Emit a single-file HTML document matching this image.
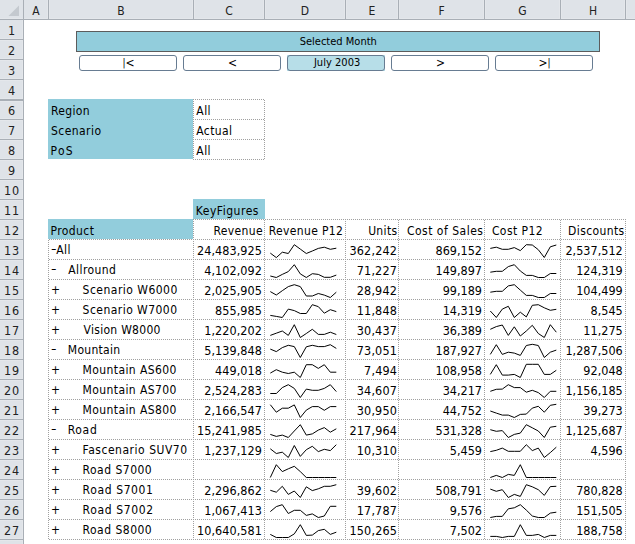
<!DOCTYPE html><html><head><meta charset="utf-8"><style>
html,body{margin:0;padding:0;background:#fff}
body{width:635px;height:544px;overflow:hidden;position:relative}
div,span{position:absolute;box-sizing:content-box}
.t{font-family:"DejaVu Sans Condensed","DejaVu Sans","Liberation Sans",sans-serif;font-size:12px;line-height:14px;color:#000;white-space:nowrap}
.n{font-size:12.5px}
.h{font-family:"DejaVu Sans Condensed","DejaVu Sans","Liberation Sans",sans-serif;font-size:12px;line-height:14px;color:#222;white-space:nowrap}
.r{font-size:12.5px}
.s{font-family:"DejaVu Sans Condensed","DejaVu Sans","Liberation Sans",sans-serif;font-size:11px;line-height:13px;color:#000;white-space:nowrap}
.a{font-size:12px;line-height:14px}
.p{position:relative;top:-1px;font-size:10px}
.hy{position:relative;top:-1px;display:inline-block;transform:scaleX(1.4);transform-origin:0 0;margin-right:0.8px}
.hd{height:1px;background:linear-gradient(to right,#A0A0A0 1px,transparent 1px) 0 0/2px 1px repeat-x}
.vd{width:1px;background:linear-gradient(to bottom,#A0A0A0 1px,transparent 1px) 0 0/1px 2px repeat-y}
</style></head><body><div style="left:0px;top:0px;width:635px;height:19px;background:#DFE3E8;"></div>
<div style="left:0px;top:18px;width:635px;height:1px;background:#E4E7EB;"></div>
<div style="left:0px;top:19px;width:635px;height:1px;background:#A9AFB6;"></div>
<div style="left:0px;top:20px;width:23px;height:524px;background:#DFE3E8;"></div>
<div style="left:22px;top:20px;width:1px;height:524px;background:#E4E7EB;"></div>
<div style="left:23px;top:0px;width:1px;height:544px;background:#A9AFB6;"></div>
<svg style="position:absolute;left:0;top:0" width="23" height="19"><polygon points="8.5,16 19,5.5 19,16" fill="#C4C9CF"/></svg>
<div style="left:47px;top:0px;width:1px;height:18px;background:#E4E7EB;"></div>
<div style="left:49px;top:0px;width:1px;height:18px;background:#E4E7EB;"></div>
<div style="left:48px;top:0px;width:1px;height:19px;background:#A9AFB6;"></div>
<div style="left:192px;top:0px;width:1px;height:18px;background:#E4E7EB;"></div>
<div style="left:194px;top:0px;width:1px;height:18px;background:#E4E7EB;"></div>
<div style="left:193px;top:0px;width:1px;height:19px;background:#A9AFB6;"></div>
<div style="left:263px;top:0px;width:1px;height:18px;background:#E4E7EB;"></div>
<div style="left:265px;top:0px;width:1px;height:18px;background:#E4E7EB;"></div>
<div style="left:264px;top:0px;width:1px;height:19px;background:#A9AFB6;"></div>
<div style="left:344px;top:0px;width:1px;height:18px;background:#E4E7EB;"></div>
<div style="left:346px;top:0px;width:1px;height:18px;background:#E4E7EB;"></div>
<div style="left:345px;top:0px;width:1px;height:19px;background:#A9AFB6;"></div>
<div style="left:397px;top:0px;width:1px;height:18px;background:#E4E7EB;"></div>
<div style="left:399px;top:0px;width:1px;height:18px;background:#E4E7EB;"></div>
<div style="left:398px;top:0px;width:1px;height:19px;background:#A9AFB6;"></div>
<div style="left:483px;top:0px;width:1px;height:18px;background:#E4E7EB;"></div>
<div style="left:485px;top:0px;width:1px;height:18px;background:#E4E7EB;"></div>
<div style="left:484px;top:0px;width:1px;height:19px;background:#A9AFB6;"></div>
<div style="left:559px;top:0px;width:1px;height:18px;background:#E4E7EB;"></div>
<div style="left:561px;top:0px;width:1px;height:18px;background:#E4E7EB;"></div>
<div style="left:560px;top:0px;width:1px;height:19px;background:#A9AFB6;"></div>
<div style="left:624px;top:0px;width:1px;height:18px;background:#E4E7EB;"></div>
<div style="left:626px;top:0px;width:1px;height:18px;background:#E4E7EB;"></div>
<div style="left:625px;top:0px;width:1px;height:19px;background:#A9AFB6;"></div>
<span class="h" style="top:4px;letter-spacing:0.000px;left:-64.00px;width:200px;text-align:center">A</span>
<span class="h" style="top:4px;letter-spacing:0.000px;left:21.00px;width:200px;text-align:center">B</span>
<span class="h" style="top:4px;letter-spacing:0.000px;left:129.00px;width:200px;text-align:center">C</span>
<span class="h" style="top:4px;letter-spacing:0.000px;left:205.00px;width:200px;text-align:center">D</span>
<span class="h" style="top:4px;letter-spacing:0.000px;left:272.00px;width:200px;text-align:center">E</span>
<span class="h" style="top:4px;letter-spacing:0.000px;left:341.50px;width:200px;text-align:center">F</span>
<span class="h" style="top:4px;letter-spacing:0.000px;left:422.50px;width:200px;text-align:center">G</span>
<span class="h" style="top:4px;letter-spacing:0.000px;left:493.00px;width:200px;text-align:center">H</span>
<span class="h" style="top:4px;letter-spacing:0.000px;left:563.00px;width:200px;text-align:center">I</span>
<div style="left:0px;top:38px;width:22px;height:1px;background:#E4E7EB;"></div>
<div style="left:0px;top:40px;width:22px;height:1px;background:#E4E7EB;"></div>
<div style="left:0px;top:39px;width:23px;height:1px;background:#A9AFB6;"></div>
<div style="left:0px;top:58px;width:22px;height:1px;background:#E4E7EB;"></div>
<div style="left:0px;top:60px;width:22px;height:1px;background:#E4E7EB;"></div>
<div style="left:0px;top:59px;width:23px;height:1px;background:#A9AFB6;"></div>
<div style="left:0px;top:78px;width:22px;height:1px;background:#E4E7EB;"></div>
<div style="left:0px;top:80px;width:22px;height:1px;background:#E4E7EB;"></div>
<div style="left:0px;top:79px;width:23px;height:1px;background:#A9AFB6;"></div>
<div style="left:0px;top:98px;width:22px;height:1px;background:#E4E7EB;"></div>
<div style="left:0px;top:100px;width:22px;height:1px;background:#E4E7EB;"></div>
<div style="left:0px;top:99px;width:23px;height:1px;background:#A9AFB6;"></div>
<div style="left:0px;top:101px;width:22px;height:1px;background:#E4E7EB;"></div>
<div style="left:0px;top:100px;width:23px;height:1px;background:#A9AFB6;"></div>
<div style="left:0px;top:118px;width:22px;height:1px;background:#E4E7EB;"></div>
<div style="left:0px;top:120px;width:22px;height:1px;background:#E4E7EB;"></div>
<div style="left:0px;top:119px;width:23px;height:1px;background:#A9AFB6;"></div>
<div style="left:0px;top:138px;width:22px;height:1px;background:#E4E7EB;"></div>
<div style="left:0px;top:140px;width:22px;height:1px;background:#E4E7EB;"></div>
<div style="left:0px;top:139px;width:23px;height:1px;background:#A9AFB6;"></div>
<div style="left:0px;top:158px;width:22px;height:1px;background:#E4E7EB;"></div>
<div style="left:0px;top:160px;width:22px;height:1px;background:#E4E7EB;"></div>
<div style="left:0px;top:159px;width:23px;height:1px;background:#A9AFB6;"></div>
<div style="left:0px;top:178px;width:22px;height:1px;background:#E4E7EB;"></div>
<div style="left:0px;top:180px;width:22px;height:1px;background:#E4E7EB;"></div>
<div style="left:0px;top:179px;width:23px;height:1px;background:#A9AFB6;"></div>
<div style="left:0px;top:198px;width:22px;height:1px;background:#E4E7EB;"></div>
<div style="left:0px;top:200px;width:22px;height:1px;background:#E4E7EB;"></div>
<div style="left:0px;top:199px;width:23px;height:1px;background:#A9AFB6;"></div>
<div style="left:0px;top:218px;width:22px;height:1px;background:#E4E7EB;"></div>
<div style="left:0px;top:220px;width:22px;height:1px;background:#E4E7EB;"></div>
<div style="left:0px;top:219px;width:23px;height:1px;background:#A9AFB6;"></div>
<div style="left:0px;top:238px;width:22px;height:1px;background:#E4E7EB;"></div>
<div style="left:0px;top:240px;width:22px;height:1px;background:#E4E7EB;"></div>
<div style="left:0px;top:239px;width:23px;height:1px;background:#A9AFB6;"></div>
<div style="left:0px;top:258px;width:22px;height:1px;background:#E4E7EB;"></div>
<div style="left:0px;top:260px;width:22px;height:1px;background:#E4E7EB;"></div>
<div style="left:0px;top:259px;width:23px;height:1px;background:#A9AFB6;"></div>
<div style="left:0px;top:278px;width:22px;height:1px;background:#E4E7EB;"></div>
<div style="left:0px;top:280px;width:22px;height:1px;background:#E4E7EB;"></div>
<div style="left:0px;top:279px;width:23px;height:1px;background:#A9AFB6;"></div>
<div style="left:0px;top:298px;width:22px;height:1px;background:#E4E7EB;"></div>
<div style="left:0px;top:300px;width:22px;height:1px;background:#E4E7EB;"></div>
<div style="left:0px;top:299px;width:23px;height:1px;background:#A9AFB6;"></div>
<div style="left:0px;top:318px;width:22px;height:1px;background:#E4E7EB;"></div>
<div style="left:0px;top:320px;width:22px;height:1px;background:#E4E7EB;"></div>
<div style="left:0px;top:319px;width:23px;height:1px;background:#A9AFB6;"></div>
<div style="left:0px;top:338px;width:22px;height:1px;background:#E4E7EB;"></div>
<div style="left:0px;top:340px;width:22px;height:1px;background:#E4E7EB;"></div>
<div style="left:0px;top:339px;width:23px;height:1px;background:#A9AFB6;"></div>
<div style="left:0px;top:358px;width:22px;height:1px;background:#E4E7EB;"></div>
<div style="left:0px;top:360px;width:22px;height:1px;background:#E4E7EB;"></div>
<div style="left:0px;top:359px;width:23px;height:1px;background:#A9AFB6;"></div>
<div style="left:0px;top:378px;width:22px;height:1px;background:#E4E7EB;"></div>
<div style="left:0px;top:380px;width:22px;height:1px;background:#E4E7EB;"></div>
<div style="left:0px;top:379px;width:23px;height:1px;background:#A9AFB6;"></div>
<div style="left:0px;top:398px;width:22px;height:1px;background:#E4E7EB;"></div>
<div style="left:0px;top:400px;width:22px;height:1px;background:#E4E7EB;"></div>
<div style="left:0px;top:399px;width:23px;height:1px;background:#A9AFB6;"></div>
<div style="left:0px;top:418px;width:22px;height:1px;background:#E4E7EB;"></div>
<div style="left:0px;top:420px;width:22px;height:1px;background:#E4E7EB;"></div>
<div style="left:0px;top:419px;width:23px;height:1px;background:#A9AFB6;"></div>
<div style="left:0px;top:438px;width:22px;height:1px;background:#E4E7EB;"></div>
<div style="left:0px;top:440px;width:22px;height:1px;background:#E4E7EB;"></div>
<div style="left:0px;top:439px;width:23px;height:1px;background:#A9AFB6;"></div>
<div style="left:0px;top:458px;width:22px;height:1px;background:#E4E7EB;"></div>
<div style="left:0px;top:460px;width:22px;height:1px;background:#E4E7EB;"></div>
<div style="left:0px;top:459px;width:23px;height:1px;background:#A9AFB6;"></div>
<div style="left:0px;top:478px;width:22px;height:1px;background:#E4E7EB;"></div>
<div style="left:0px;top:480px;width:22px;height:1px;background:#E4E7EB;"></div>
<div style="left:0px;top:479px;width:23px;height:1px;background:#A9AFB6;"></div>
<div style="left:0px;top:498px;width:22px;height:1px;background:#E4E7EB;"></div>
<div style="left:0px;top:500px;width:22px;height:1px;background:#E4E7EB;"></div>
<div style="left:0px;top:499px;width:23px;height:1px;background:#A9AFB6;"></div>
<div style="left:0px;top:518px;width:22px;height:1px;background:#E4E7EB;"></div>
<div style="left:0px;top:520px;width:22px;height:1px;background:#E4E7EB;"></div>
<div style="left:0px;top:519px;width:23px;height:1px;background:#A9AFB6;"></div>
<div style="left:0px;top:538px;width:22px;height:1px;background:#E4E7EB;"></div>
<div style="left:0px;top:540px;width:22px;height:1px;background:#E4E7EB;"></div>
<div style="left:0px;top:539px;width:23px;height:1px;background:#A9AFB6;"></div>
<span class="h r" style="top:24px;letter-spacing:0.000px;left:-88.50px;width:200px;text-align:center">1</span>
<span class="h r" style="top:44px;letter-spacing:0.000px;left:-88.50px;width:200px;text-align:center">2</span>
<span class="h r" style="top:64px;letter-spacing:0.000px;left:-88.50px;width:200px;text-align:center">3</span>
<span class="h r" style="top:84px;letter-spacing:0.000px;left:-88.50px;width:200px;text-align:center">4</span>
<span class="h r" style="top:104px;letter-spacing:0.000px;left:-88.50px;width:200px;text-align:center">6</span>
<span class="h r" style="top:124px;letter-spacing:0.000px;left:-88.50px;width:200px;text-align:center">7</span>
<span class="h r" style="top:144px;letter-spacing:0.000px;left:-88.50px;width:200px;text-align:center">8</span>
<span class="h r" style="top:164px;letter-spacing:0.000px;left:-88.50px;width:200px;text-align:center">9</span>
<span class="h r" style="top:184px;letter-spacing:0.800px;left:-88.10px;width:200px;text-align:center">10</span>
<span class="h r" style="top:204px;letter-spacing:0.800px;left:-88.10px;width:200px;text-align:center">11</span>
<span class="h r" style="top:224px;letter-spacing:0.800px;left:-88.10px;width:200px;text-align:center">12</span>
<span class="h r" style="top:244px;letter-spacing:0.800px;left:-88.10px;width:200px;text-align:center">13</span>
<span class="h r" style="top:264px;letter-spacing:0.800px;left:-88.10px;width:200px;text-align:center">14</span>
<span class="h r" style="top:284px;letter-spacing:0.800px;left:-88.10px;width:200px;text-align:center">15</span>
<span class="h r" style="top:304px;letter-spacing:0.800px;left:-88.10px;width:200px;text-align:center">16</span>
<span class="h r" style="top:324px;letter-spacing:0.800px;left:-88.10px;width:200px;text-align:center">17</span>
<span class="h r" style="top:344px;letter-spacing:0.800px;left:-88.10px;width:200px;text-align:center">18</span>
<span class="h r" style="top:364px;letter-spacing:0.800px;left:-88.10px;width:200px;text-align:center">19</span>
<span class="h r" style="top:384px;letter-spacing:0.800px;left:-88.10px;width:200px;text-align:center">20</span>
<span class="h r" style="top:404px;letter-spacing:0.800px;left:-88.10px;width:200px;text-align:center">21</span>
<span class="h r" style="top:424px;letter-spacing:0.800px;left:-88.10px;width:200px;text-align:center">22</span>
<span class="h r" style="top:444px;letter-spacing:0.800px;left:-88.10px;width:200px;text-align:center">23</span>
<span class="h r" style="top:464px;letter-spacing:0.800px;left:-88.10px;width:200px;text-align:center">24</span>
<span class="h r" style="top:484px;letter-spacing:0.800px;left:-88.10px;width:200px;text-align:center">25</span>
<span class="h r" style="top:504px;letter-spacing:0.800px;left:-88.10px;width:200px;text-align:center">26</span>
<span class="h r" style="top:524px;letter-spacing:0.800px;left:-88.10px;width:200px;text-align:center">27</span>
<span class="h r" style="top:544px;letter-spacing:0.800px;left:-88.10px;width:200px;text-align:center">28</span>
<div style="left:76px;top:31px;width:522px;height:19px;border:1px solid #5C5C5C;background:#92CDDC"></div>
<span class="s" style="top:35px;letter-spacing:0.007px;left:238.25px;width:200px;text-align:center">Selected Month</span>
<div style="left:79px;top:55px;width:96px;height:14px;border:1px solid #677C92;border-radius:3px"></div>
<span class="s a" style="top:56px;letter-spacing:0.000px;left:28.50px;width:200px;text-align:center"><span class="p">|</span>&lt;</span>
<div style="left:183px;top:55px;width:96px;height:14px;border:1px solid #677C92;border-radius:3px"></div>
<span class="s a" style="top:56px;letter-spacing:0.000px;left:132.50px;width:200px;text-align:center">&lt;</span>
<div style="left:287px;top:55px;width:98px;height:16px;background:#B7DEE8;"></div>
<div style="left:287px;top:55px;width:96px;height:14px;border:1px solid #677C92;border-radius:3px"></div>
<span class="s" style="top:56px;letter-spacing:0.034px;left:237.15px;width:200px;text-align:center">July 2003</span>
<div style="left:391px;top:55px;width:96px;height:14px;border:1px solid #677C92;border-radius:3px"></div>
<span class="s a" style="top:56px;letter-spacing:0.000px;left:340.50px;width:200px;text-align:center">&gt;</span>
<div style="left:495px;top:55px;width:96px;height:14px;border:1px solid #677C92;border-radius:3px"></div>
<span class="s a" style="top:56px;letter-spacing:0.000px;left:444.50px;width:200px;text-align:center">&gt;<span class="p">|</span></span>
<div style="left:48px;top:99px;width:145px;height:60px;background:#92CDDC;"></div>
<div class="hd" style="left:193px;top:99px;width:72px"></div>
<div class="hd" style="left:193px;top:119px;width:72px"></div>
<div class="hd" style="left:193px;top:139px;width:72px"></div>
<div class="hd" style="left:193px;top:159px;width:72px"></div>
<div class="vd" style="left:193px;top:99px;height:61px"></div>
<div class="vd" style="left:264px;top:100px;height:60px"></div>
<span class="t" style="top:104px;letter-spacing:0.338px;left:51.00px">Region</span>
<span class="t" style="top:104px;letter-spacing:0.455px;left:196.30px">All</span>
<span class="t" style="top:124px;letter-spacing:0.436px;left:51.00px">Scenario</span>
<span class="t" style="top:124px;letter-spacing:0.374px;left:196.30px">Actual</span>
<span class="t" style="top:144px;letter-spacing:1.310px;left:50.50px">PoS</span>
<span class="t" style="top:144px;letter-spacing:0.455px;left:196.30px">All</span>
<div style="left:193px;top:199px;width:72px;height:20px;background:#92CDDC;"></div>
<span class="t" style="top:204px;letter-spacing:0.520px;left:195.80px">KeyFigures</span>
<div style="left:48px;top:219px;width:145px;height:20px;background:#92CDDC;"></div>
<span class="t" style="top:224px;letter-spacing:0.440px;left:50.40px">Product</span>
<div class="hd" style="left:193px;top:219px;width:433px"></div>
<div class="hd" style="left:49px;top:239px;width:577px"></div>
<div class="hd" style="left:49px;top:259px;width:577px"></div>
<div class="hd" style="left:49px;top:279px;width:577px"></div>
<div class="hd" style="left:49px;top:299px;width:577px"></div>
<div class="hd" style="left:49px;top:319px;width:577px"></div>
<div class="hd" style="left:49px;top:339px;width:577px"></div>
<div class="hd" style="left:49px;top:359px;width:577px"></div>
<div class="hd" style="left:49px;top:379px;width:577px"></div>
<div class="hd" style="left:49px;top:399px;width:577px"></div>
<div class="hd" style="left:49px;top:419px;width:577px"></div>
<div class="hd" style="left:49px;top:439px;width:577px"></div>
<div class="hd" style="left:49px;top:459px;width:577px"></div>
<div class="hd" style="left:49px;top:479px;width:577px"></div>
<div class="hd" style="left:49px;top:499px;width:577px"></div>
<div class="hd" style="left:49px;top:519px;width:577px"></div>
<div class="hd" style="left:49px;top:539px;width:577px"></div>
<div class="vd" style="left:48px;top:240px;height:300px"></div>
<div class="vd" style="left:193px;top:219px;height:321px"></div>
<div class="vd" style="left:264px;top:220px;height:320px"></div>
<div class="vd" style="left:345px;top:219px;height:321px"></div>
<div class="vd" style="left:398px;top:220px;height:320px"></div>
<div class="vd" style="left:484px;top:220px;height:320px"></div>
<div class="vd" style="left:560px;top:220px;height:320px"></div>
<div class="vd" style="left:625px;top:219px;height:321px"></div>
<span class="t" style="top:224px;letter-spacing:0.380px;right:371.92px">Revenue</span>
<span class="t" style="top:224px;letter-spacing:0.356px;left:268.70px">Revenue P12</span>
<span class="t" style="top:224px;letter-spacing:0.343px;right:237.56px">Units</span>
<span class="t" style="top:224px;letter-spacing:0.508px;right:151.49px">Cost of Sales</span>
<span class="t" style="top:224px;letter-spacing:0.436px;left:491.90px">Cost P12</span>
<span class="t" style="top:224px;letter-spacing:0.388px;right:10.41px">Discounts</span>
<span class="t" style="top:243px;letter-spacing:0.500px;left:51.00px"><span class="hy">-</span>All</span>
<span class="t n" style="top:244px;letter-spacing:0.040px;right:373.16px">24,483,925</span>
<span class="t n" style="top:244px;letter-spacing:0.155px;right:237.95px">362,242</span>
<span class="t n" style="top:244px;letter-spacing:-0.010px;right:153.01px">869,152</span>
<span class="t n" style="top:244px;letter-spacing:0.009px;right:12.29px">2,537,512</span>
<span class="t" style="top:263px;letter-spacing:0.500px;left:51.00px"><span class="hy">-</span></span>
<span class="t" style="top:263px;letter-spacing:0.436px;left:68.20px">Allround</span>
<span class="t n" style="top:264px;letter-spacing:0.040px;right:373.16px">4,102,092</span>
<span class="t n" style="top:264px;letter-spacing:0.155px;right:237.95px">71,227</span>
<span class="t n" style="top:264px;letter-spacing:-0.010px;right:153.01px">149,897</span>
<span class="t n" style="top:264px;letter-spacing:0.009px;right:12.29px">124,319</span>
<span class="t" style="top:283px;letter-spacing:0.500px;left:51.00px">+</span>
<span class="t" style="top:283px;letter-spacing:0.479px;left:82.60px">Scenario W6000</span>
<span class="t n" style="top:284px;letter-spacing:0.040px;right:373.16px">2,025,905</span>
<span class="t n" style="top:284px;letter-spacing:0.155px;right:237.95px">28,942</span>
<span class="t n" style="top:284px;letter-spacing:-0.010px;right:153.01px">99,189</span>
<span class="t n" style="top:284px;letter-spacing:0.009px;right:12.29px">104,499</span>
<span class="t" style="top:303px;letter-spacing:0.500px;left:51.00px">+</span>
<span class="t" style="top:303px;letter-spacing:0.458px;left:82.60px">Scenario W7000</span>
<span class="t n" style="top:304px;letter-spacing:0.040px;right:373.16px">855,985</span>
<span class="t n" style="top:304px;letter-spacing:0.155px;right:237.95px">11,848</span>
<span class="t n" style="top:304px;letter-spacing:-0.010px;right:153.01px">14,319</span>
<span class="t n" style="top:304px;letter-spacing:0.009px;right:12.29px">8,545</span>
<span class="t" style="top:323px;letter-spacing:0.500px;left:51.00px">+</span>
<span class="t" style="top:323px;letter-spacing:0.279px;left:83.60px">Vision W8000</span>
<span class="t n" style="top:324px;letter-spacing:0.040px;right:373.16px">1,220,202</span>
<span class="t n" style="top:324px;letter-spacing:0.155px;right:237.95px">30,437</span>
<span class="t n" style="top:324px;letter-spacing:-0.010px;right:153.01px">36,389</span>
<span class="t n" style="top:324px;letter-spacing:0.009px;right:12.29px">11,275</span>
<span class="t" style="top:343px;letter-spacing:0.500px;left:51.00px"><span class="hy">-</span></span>
<span class="t" style="top:343px;letter-spacing:0.294px;left:67.80px">Mountain</span>
<span class="t n" style="top:344px;letter-spacing:0.040px;right:373.16px">5,139,848</span>
<span class="t n" style="top:344px;letter-spacing:0.155px;right:237.95px">73,051</span>
<span class="t n" style="top:344px;letter-spacing:-0.010px;right:153.01px">187,927</span>
<span class="t n" style="top:344px;letter-spacing:0.009px;right:12.29px">1,287,506</span>
<span class="t" style="top:363px;letter-spacing:0.500px;left:51.00px">+</span>
<span class="t" style="top:363px;letter-spacing:0.396px;left:82.60px">Mountain AS600</span>
<span class="t n" style="top:364px;letter-spacing:0.040px;right:373.16px">449,018</span>
<span class="t n" style="top:364px;letter-spacing:0.155px;right:237.95px">7,494</span>
<span class="t n" style="top:364px;letter-spacing:-0.010px;right:153.01px">108,958</span>
<span class="t n" style="top:364px;letter-spacing:0.009px;right:12.29px">92,048</span>
<span class="t" style="top:383px;letter-spacing:0.500px;left:51.00px">+</span>
<span class="t" style="top:383px;letter-spacing:0.396px;left:82.60px">Mountain AS700</span>
<span class="t n" style="top:384px;letter-spacing:0.040px;right:373.16px">2,524,283</span>
<span class="t n" style="top:384px;letter-spacing:0.155px;right:237.95px">34,607</span>
<span class="t n" style="top:384px;letter-spacing:-0.010px;right:153.01px">34,217</span>
<span class="t n" style="top:384px;letter-spacing:0.009px;right:12.29px">1,156,185</span>
<span class="t" style="top:403px;letter-spacing:0.500px;left:51.00px">+</span>
<span class="t" style="top:403px;letter-spacing:0.396px;left:82.60px">Mountain AS800</span>
<span class="t n" style="top:404px;letter-spacing:0.040px;right:373.16px">2,166,547</span>
<span class="t n" style="top:404px;letter-spacing:0.155px;right:237.95px">30,950</span>
<span class="t n" style="top:404px;letter-spacing:-0.010px;right:153.01px">44,752</span>
<span class="t n" style="top:404px;letter-spacing:0.009px;right:12.29px">39,273</span>
<span class="t" style="top:423px;letter-spacing:0.500px;left:51.00px"><span class="hy">-</span></span>
<span class="t" style="top:423px;letter-spacing:0.680px;left:67.70px">Road</span>
<span class="t n" style="top:424px;letter-spacing:0.040px;right:373.16px">15,241,985</span>
<span class="t n" style="top:424px;letter-spacing:0.155px;right:237.95px">217,964</span>
<span class="t n" style="top:424px;letter-spacing:-0.010px;right:153.01px">531,328</span>
<span class="t n" style="top:424px;letter-spacing:0.009px;right:12.29px">1,125,687</span>
<span class="t" style="top:443px;letter-spacing:0.500px;left:51.00px">+</span>
<span class="t" style="top:443px;letter-spacing:0.518px;left:82.60px">Fascenario SUV70</span>
<span class="t n" style="top:444px;letter-spacing:0.040px;right:373.16px">1,237,129</span>
<span class="t n" style="top:444px;letter-spacing:0.155px;right:237.95px">10,310</span>
<span class="t n" style="top:444px;letter-spacing:-0.010px;right:153.01px">5,459</span>
<span class="t n" style="top:444px;letter-spacing:0.009px;right:12.29px">4,596</span>
<span class="t" style="top:463px;letter-spacing:0.500px;left:51.00px">+</span>
<span class="t" style="top:463px;letter-spacing:0.480px;left:82.60px">Road S7000</span>
<span class="t" style="top:483px;letter-spacing:0.500px;left:51.00px">+</span>
<span class="t" style="top:483px;letter-spacing:0.620px;left:82.60px">Road S7001</span>
<span class="t n" style="top:484px;letter-spacing:0.040px;right:373.16px">2,296,862</span>
<span class="t n" style="top:484px;letter-spacing:0.155px;right:237.95px">39,602</span>
<span class="t n" style="top:484px;letter-spacing:-0.010px;right:153.01px">508,791</span>
<span class="t n" style="top:484px;letter-spacing:0.009px;right:12.29px">780,828</span>
<span class="t" style="top:503px;letter-spacing:0.500px;left:51.00px">+</span>
<span class="t" style="top:503px;letter-spacing:0.630px;left:82.60px">Road S7002</span>
<span class="t n" style="top:504px;letter-spacing:0.040px;right:373.16px">1,067,413</span>
<span class="t n" style="top:504px;letter-spacing:0.155px;right:237.95px">17,787</span>
<span class="t n" style="top:504px;letter-spacing:-0.010px;right:153.01px">9,576</span>
<span class="t n" style="top:504px;letter-spacing:0.009px;right:12.29px">151,505</span>
<span class="t" style="top:523px;letter-spacing:0.500px;left:51.00px">+</span>
<span class="t" style="top:523px;letter-spacing:0.480px;left:82.60px">Road S8000</span>
<span class="t n" style="top:524px;letter-spacing:0.040px;right:373.16px">10,640,581</span>
<span class="t n" style="top:524px;letter-spacing:0.155px;right:237.95px">150,265</span>
<span class="t n" style="top:524px;letter-spacing:-0.010px;right:153.01px">7,502</span>
<span class="t n" style="top:524px;letter-spacing:0.009px;right:12.29px">188,758</span>
<svg style="position:absolute;left:0;top:0" width="635" height="544"><g fill="none" stroke="#000" stroke-width="1.0" stroke-linejoin="round"><polyline points="270.3,253.1 276.3,257.6 282.3,252.2 288.3,253.5 294.3,244.7 300.3,249.1 306.3,253.5 312.3,251.0 318.3,248.4 324.3,247.2 330.3,249.3 336.3,248.2"/><polyline points="490.3,248.4 496.3,247.2 502.3,249.3 508.3,249.3 514.3,247.6 520.3,250.6 526.3,244.7 532.3,245.0 538.3,249.7 544.3,257.5 550.3,246.8 556.3,245.0"/><polyline points="270.3,276.0 276.3,277.5 282.3,274.4 288.3,271.6 294.3,264.7 300.3,273.9 306.3,277.5 312.3,273.7 318.3,274.4 324.3,277.3 330.3,277.3 336.3,275.1"/><polyline points="490.3,272.2 496.3,271.3 502.3,271.3 508.3,266.6 514.3,264.7 520.3,271.0 526.3,275.4 532.3,275.4 538.3,277.5 544.3,277.5 550.3,273.5 556.3,273.5"/><polyline points="270.3,291.6 276.3,295.0 282.3,290.7 288.3,286.6 294.3,284.7 300.3,286.6 306.3,296.0 312.3,296.0 318.3,293.5 324.3,295.1 330.3,297.5 336.3,292.2"/><polyline points="490.3,292.2 496.3,291.3 502.3,291.3 508.3,285.9 514.3,284.7 520.3,290.1 526.3,295.4 532.3,295.4 538.3,297.5 544.3,297.5 550.3,293.5 556.3,293.5"/><polyline points="270.3,315.4 276.3,316.4 282.3,317.5 288.3,309.1 294.3,310.6 300.3,313.5 306.3,313.5 312.3,304.7 318.3,306.6 324.3,313.2 330.3,309.7 336.3,311.6"/><polyline points="490.3,311.0 496.3,317.5 502.3,309.1 508.3,306.3 514.3,317.5 520.3,312.2 526.3,316.9 532.3,305.3 538.3,304.7 544.3,307.8 550.3,310.3 556.3,309.3"/><polyline points="270.3,335.4 276.3,333.2 282.3,331.0 288.3,335.4 294.3,324.7 300.3,337.5 306.3,333.5 312.3,329.3 318.3,334.4 324.3,334.4 330.3,332.2 336.3,334.5"/><polyline points="490.3,329.3 496.3,326.6 502.3,325.0 508.3,335.4 514.3,326.8 520.3,336.0 526.3,331.0 532.3,325.3 538.3,333.5 544.3,337.5 550.3,324.7 556.3,332.2"/><polyline points="270.3,349.1 276.3,351.6 282.3,347.6 288.3,345.3 294.3,346.6 300.3,357.5 306.3,346.8 312.3,345.3 318.3,346.6 324.3,346.6 330.3,344.7 336.3,348.4"/><polyline points="490.3,354.4 496.3,344.7 502.3,354.4 508.3,352.2 514.3,353.1 520.3,355.4 526.3,345.5 532.3,344.3 538.3,345.5 544.3,357.5 550.3,352.2 556.3,350.1"/><polyline points="270.3,373.1 276.3,369.7 282.3,372.2 288.3,373.5 294.3,372.2 300.3,377.5 306.3,364.7 312.3,364.7 318.3,368.4 324.3,364.7 330.3,372.2 336.3,372.2"/><polyline points="490.3,374.4 496.3,364.7 502.3,375.1 508.3,375.1 514.3,374.4 520.3,377.5 526.3,364.3 532.3,364.3 538.3,364.3 544.3,374.4 550.3,374.4 556.3,370.3"/><polyline points="270.3,393.5 276.3,393.5 282.3,387.6 288.3,384.7 294.3,388.4 300.3,397.5 306.3,389.1 312.3,390.3 318.3,390.3 324.3,388.4 330.3,384.7 336.3,391.6"/><polyline points="490.3,391.3 496.3,389.3 502.3,389.1 508.3,384.7 514.3,387.6 520.3,387.6 526.3,392.2 532.3,390.3 538.3,392.6 544.3,397.5 550.3,391.3 556.3,391.3"/><polyline points="270.3,404.7 276.3,412.2 282.3,408.2 288.3,408.2 294.3,404.9 300.3,417.5 306.3,410.1 312.3,406.6 318.3,406.6 324.3,410.3 330.3,406.6 336.3,406.6"/><polyline points="490.3,411.0 496.3,413.1 502.3,415.1 508.3,415.1 514.3,417.5 520.3,414.4 526.3,414.1 532.3,408.1 538.3,406.3 544.3,412.2 550.3,405.3 556.3,404.3"/><polyline points="270.3,434.4 276.3,436.4 282.3,435.1 288.3,437.5 294.3,431.0 300.3,424.7 306.3,435.1 312.3,433.9 318.3,430.1 324.3,427.6 330.3,432.2 336.3,428.8"/><polyline points="490.3,429.7 496.3,431.3 502.3,430.6 508.3,437.5 514.3,434.4 520.3,433.1 526.3,424.7 532.3,427.8 538.3,431.0 544.3,437.5 550.3,427.2 556.3,426.3"/><polyline points="270.3,448.8 276.3,453.5 282.3,452.2 288.3,457.5 294.3,445.5 300.3,456.4 306.3,449.7 312.3,446.3 318.3,451.6 324.3,449.3 330.3,450.6 336.3,444.7"/><polyline points="490.3,451.6 496.3,450.3 502.3,448.1 508.3,451.3 514.3,451.3 520.3,451.3 526.3,444.7 532.3,450.6 538.3,448.1 544.3,457.5 550.3,452.6 556.3,447.2"/><polyline points="270.3,477.5 276.3,464.7 282.3,471.6 288.3,468.8 294.3,466.3 300.3,471.6 306.3,477.5 312.3,477.5 318.3,477.5 324.3,477.5 330.3,477.5 336.3,477.5"/><polyline points="490.3,477.5 496.3,475.4 502.3,477.5 508.3,474.4 514.3,475.4 520.3,464.7 526.3,477.5 532.3,477.5 538.3,477.5 544.3,477.5 550.3,477.5 556.3,477.5"/><polyline points="270.3,490.3 276.3,492.2 282.3,486.3 288.3,494.4 294.3,491.0 300.3,497.5 306.3,486.8 312.3,490.6 318.3,488.8 324.3,486.3 330.3,486.3 336.3,484.7"/><polyline points="490.3,489.1 496.3,491.3 502.3,489.7 508.3,497.5 514.3,494.4 520.3,496.4 526.3,484.7 532.3,486.8 538.3,489.7 544.3,495.4 550.3,486.6 556.3,486.3"/><polyline points="270.3,511.6 276.3,506.6 282.3,504.7 288.3,513.5 294.3,510.3 300.3,510.3 306.3,515.4 312.3,513.9 318.3,517.5 324.3,516.0 330.3,506.3 336.3,506.3"/><polyline points="490.3,517.5 496.3,516.4 502.3,516.4 508.3,508.8 514.3,507.8 520.3,504.7 526.3,510.1 532.3,516.0 538.3,517.5 544.3,517.5 550.3,513.1 556.3,512.2"/><polyline points="270.3,534.4 276.3,537.5 282.3,537.5 288.3,537.5 294.3,533.9 300.3,524.7 306.3,535.4 312.3,535.1 318.3,530.6 324.3,529.3 330.3,534.4 336.3,532.2"/><polyline points="490.3,536.4 496.3,536.4 502.3,537.5 508.3,536.4 514.3,536.4 520.3,524.7 526.3,535.4 532.3,535.4 538.3,534.4 544.3,537.5 550.3,535.4 556.3,535.4"/></g></svg></body></html>
